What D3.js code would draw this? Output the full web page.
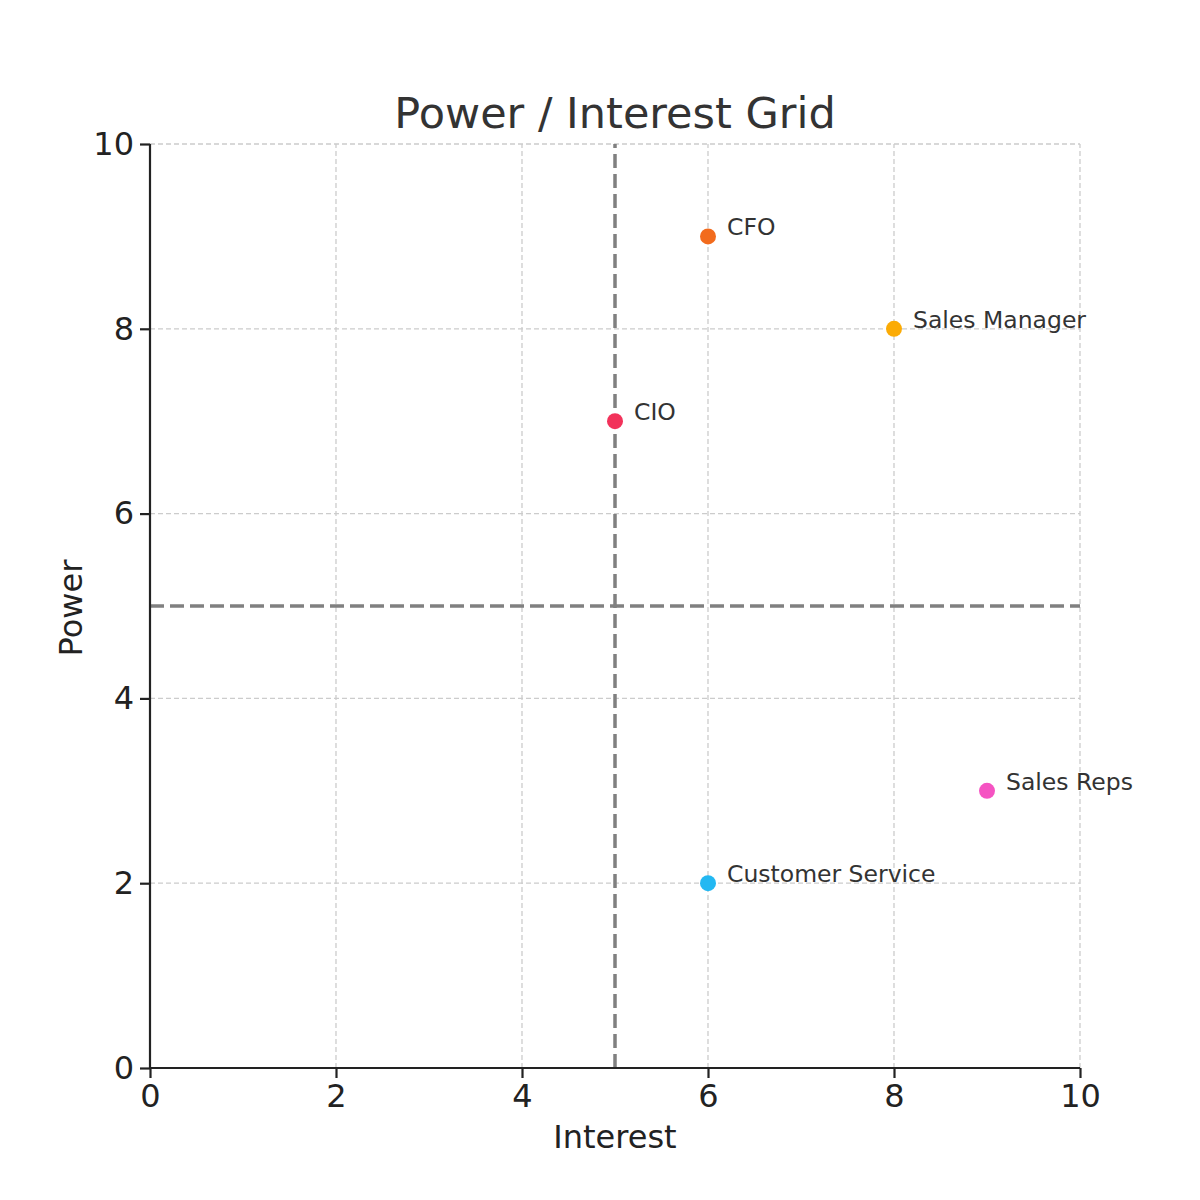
<!DOCTYPE html>
<html><head><meta charset="utf-8">
<script src="https://cdn.jsdelivr.net/npm/d3@7"></script>
<style>body{margin:0;background:#fff}</style></head>
<body><svg id="c" width="1200" height="1200"></svg>
<script>
const names=["CFO","Sales Manager","CIO","Sales Reps","Customer Service"];
const interest=[6,8,5,9,6];
const power=[9,8,7,3,2];
const colors=["#f26b1d","#fbab05","#f2325a","#f553c2","#23b8f2"];
const ticks=[0,2,4,6,8,10];
const font="DejaVu Sans, sans-serif";
const svg=d3.select("#c");
const x=d3.scaleLinear().domain([0,10]).range([150,1080]);
const y=d3.scaleLinear().domain([0,10]).range([1068,144]);
const g=svg.append("g");
ticks.forEach(t=>{
  g.append("line").attr("x1",x(t)).attr("x2",x(t)).attr("y1",y(0)).attr("y2",y(10)).attr("stroke","#ccc").attr("stroke-dasharray","5,3").attr("stroke-width",1.3);
  g.append("line").attr("y1",y(t)).attr("y2",y(t)).attr("x1",x(0)).attr("x2",x(10)).attr("stroke","#ccc").attr("stroke-dasharray","5,3").attr("stroke-width",1.3);
});
g.append("line").attr("x1",x(5)).attr("x2",x(5)).attr("y1",y(0)).attr("y2",y(10)).attr("stroke","#808080").attr("stroke-width",3.5).attr("stroke-dasharray","14,6");
g.append("line").attr("y1",y(5)).attr("y2",y(5)).attr("x1",x(0)).attr("x2",x(10)).attr("stroke","#808080").attr("stroke-width",3.5).attr("stroke-dasharray","14,6");
const xa=svg.append("g").attr("transform",`translate(0,${y(0)})`).call(d3.axisBottom(x).tickValues(ticks).tickSize(10).tickPadding(6));
const ya=svg.append("g").attr("transform",`translate(${x(0)},0)`).call(d3.axisLeft(y).tickValues(ticks).tickSize(10).tickPadding(6));
[xa,ya].forEach(a=>{a.selectAll("text").attr("font-size",32).attr("font-family",font).attr("fill","#222");
 a.selectAll("line,path").attr("stroke","#222").attr("stroke-width",2.2);});
xa.select("path").attr("d",`M${x(0)},0H${x(10)}`);
ya.select("path").attr("d",`M0,${y(0)}V${y(10)}`);
names.forEach((n,i)=>{
  svg.append("circle").attr("cx",x(interest[i])).attr("cy",y(power[i])).attr("r",8).attr("fill",colors[i]);
  svg.append("text").attr("x",x(interest[i])+19).attr("y",y(power[i])-1).text(n).attr("font-size",23.5).attr("font-family",font).attr("fill","#333");
});
svg.append("text").attr("x",615).attr("y",128).attr("text-anchor","middle").attr("font-size",43).attr("font-family",font).attr("fill","#333").text("Power / Interest Grid");
svg.append("text").attr("x",615).attr("y",1148).attr("text-anchor","middle").attr("font-size",32).attr("font-family",font).attr("fill","#222").text("Interest");
svg.append("text").attr("transform","translate(82,608) rotate(-90)").attr("text-anchor","middle").attr("font-size",32).attr("font-family",font).attr("fill","#222").text("Power");
</script></body></html>
